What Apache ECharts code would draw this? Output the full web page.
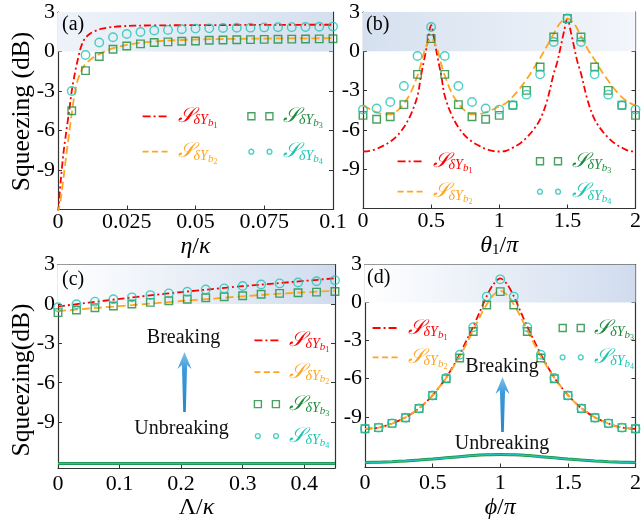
<!DOCTYPE html>
<html><head><meta charset="utf-8">
<script src="https://cdn.jsdelivr.net/npm/echarts@6/dist/echarts.min.js"></script>
<style>html,body{margin:0;padding:0;background:#fff}#c{width:644px;height:521px}</style>
</head><body><div id="c"></div><script>
// ---------- data ----------
// panel (a): eta/kappa
const aX1 = [0,0.0005,0.001,0.002,0.003,0.004,0.005,0.006,0.007,0.008,0.009,0.01,0.012,0.014,0.016,0.02,0.025,0.03,0.04,0.05,0.06,0.07,0.08,0.09,0.1];
const aY1 = [-12.3,-11.1,-9.8,-7.7,-6.1,-4.6,-3.0,-1.8,-0.8,0.1,0.7,1.05,1.4,1.6,1.74,1.87,1.94,1.97,1.99,2.0,2.01,2.02,2.02,2.03,2.03];
const aX2 = [0,0.001,0.002,0.003,0.004,0.005,0.006,0.007,0.008,0.009,0.01,0.0125,0.015,0.0175,0.02,0.025,0.03,0.035,0.04,0.05,0.06,0.07,0.08,0.09,0.1];
const aY2 = [-12.3,-11.2,-9.6,-7.9,-6.3,-4.7,-3.3,-2.3,-1.7,-1.25,-0.95,-0.5,-0.2,0.05,0.25,0.5,0.66,0.76,0.83,0.91,0.95,0.97,0.99,1.0,1.01];
const aPX = [0.005,0.01,0.015,0.02,0.025,0.03,0.035,0.04,0.045,0.05,0.055,0.06,0.065,0.07,0.075,0.08,0.085,0.09,0.095,0.1];
const aY3 = [-4.5,-1.45,-0.38,0.17,0.42,0.58,0.68,0.73,0.78,0.8,0.85,0.87,0.89,0.9,0.92,0.93,0.94,0.95,0.96,0.97];
const aY4 = [-3.0,-0.27,0.68,1.08,1.33,1.48,1.59,1.64,1.69,1.74,1.76,1.78,1.8,1.81,1.83,1.84,1.85,1.86,1.88,1.89];
// panel (b): theta1/pi
const bX1 = [0,0.05,0.1,0.15,0.2,0.25,0.3,0.35,0.4,0.425,0.45,0.475,0.5,0.525,0.55,0.575,0.6,0.65,0.7,0.75,0.8,0.85,0.9,0.95,1.0,1.05,1.1,1.15,1.2,1.25,1.3,1.35,1.4,1.425,1.45,1.475,1.5,1.525,1.55,1.575,1.6,1.65,1.7,1.75,1.8,1.85,1.9,1.95,2.0];
const bY1 = [-7.65,-7.6,-7.45,-7.2,-6.9,-6.45,-5.8,-4.85,-3.4,-1.9,-0.6,0.75,2.0,0.75,-0.6,-1.9,-3.4,-4.85,-5.8,-6.45,-6.9,-7.2,-7.45,-7.6,-7.65,-7.6,-7.35,-7.05,-6.6,-6.0,-5.2,-3.8,-1.7,-0.85,0.3,1.5,2.5,1.5,0.3,-0.85,-1.7,-3.8,-5.2,-6.0,-6.6,-7.05,-7.35,-7.6,-7.65];
const bX2 = [0,0.05,0.1,0.15,0.2,0.25,0.3,0.35,0.4,0.425,0.45,0.475,0.5,0.525,0.55,0.575,0.6,0.65,0.7,0.75,0.8,0.85,0.9,0.95,1.0,1.05,1.1,1.15,1.2,1.25,1.3,1.35,1.4,1.45,1.5,1.55,1.6,1.65,1.7,1.75,1.8,1.85,1.9,1.95,2.0];
const bY2 = [-4.15,-4.4,-4.65,-4.8,-4.82,-4.55,-4.0,-3.15,-1.85,-1.0,0.0,0.65,1.0,0.65,0.0,-1.0,-1.85,-3.15,-4.0,-4.55,-4.82,-4.8,-4.65,-4.45,-4.2,-3.95,-3.45,-2.85,-2.15,-1.35,-0.5,0.4,1.35,2.2,2.5,2.1,1.15,0.15,-0.65,-1.5,-2.25,-2.95,-3.5,-3.9,-4.15];
const bPX = [0,0.1,0.2,0.3,0.4,0.5,0.6,0.7,0.8,0.9,1.0,1.1,1.2,1.3,1.4,1.5,1.6,1.7,1.8,1.9,2.0];
const bY3 = [-4.89,-5.19,-5.0,-4.07,-1.76,0.97,-1.76,-4.07,-5.0,-5.19,-4.89,-4.12,-2.98,-1.2,1.09,2.5,1.09,-1.2,-2.98,-4.12,-4.89];
const bY4 = [-4.45,-4.37,-3.87,-2.65,-0.36,1.86,-0.36,-2.65,-3.87,-4.37,-4.45,-4.12,-3.31,-1.76,0.71,2.5,0.71,-1.76,-3.31,-4.12,-4.45];
// panel (c): Lambda/kappa
const cLX = [0,0.05,0.1,0.15,0.2,0.25,0.3,0.35,0.4,0.45];
const cY1 = [-0.2,0.1,0.38,0.65,0.9,1.13,1.35,1.55,1.75,1.95];
const cY2 = [-0.55,-0.35,-0.17,0.02,0.22,0.4,0.58,0.74,0.88,1.0];
const cPX = [0,0.03,0.06,0.09,0.12,0.15,0.18,0.21,0.24,0.27,0.3,0.33,0.36,0.39,0.42,0.45];
const cY3 = [-0.66,-0.46,-0.29,-0.16,-0.01,0.12,0.24,0.35,0.47,0.55,0.62,0.73,0.8,0.85,0.9,0.95];
const cY4 = [-0.26,-0.03,0.17,0.35,0.5,0.67,0.8,0.93,1.1,1.18,1.36,1.48,1.56,1.63,1.73,1.81];
const cUX = [0,0.45];
const cU = [-12.15,-12.15];
// panel (d): phi/pi
const dLX = [0,0.05,0.1,0.15,0.2,0.25,0.3,0.35,0.4,0.45,0.5,0.55,0.6,0.65,0.7,0.75,0.8,0.85,0.9,0.95,1.0,1.05,1.1,1.15,1.2,1.25,1.3,1.35,1.4,1.45,1.5,1.55,1.6,1.65,1.7,1.75,1.8,1.85,1.9,1.95,2.0];
const dY1 = [-9.95,-9.92,-9.85,-9.72,-9.53,-9.3,-9.05,-8.72,-8.33,-7.85,-7.3,-6.65,-5.92,-5.05,-4.08,-3.0,-1.9,-0.7,0.5,1.45,1.9,1.45,0.5,-0.7,-1.9,-3.0,-4.08,-5.05,-5.92,-6.65,-7.3,-7.85,-8.33,-8.72,-9.05,-9.3,-9.53,-9.72,-9.85,-9.92,-9.95];
const dY2 = [-9.95,-9.92,-9.85,-9.72,-9.53,-9.3,-9.05,-8.72,-8.33,-7.85,-7.3,-6.65,-5.95,-5.12,-4.25,-3.25,-2.2,-1.1,-0.15,0.6,0.95,0.6,-0.15,-1.1,-2.2,-3.25,-4.25,-5.12,-5.95,-6.65,-7.3,-7.85,-8.33,-8.72,-9.05,-9.3,-9.53,-9.72,-9.85,-9.92,-9.95];
const dPX = [0,0.1,0.2,0.3,0.4,0.5,0.6,0.7,0.8,0.9,1.0,1.1,1.2,1.3,1.4,1.5,1.6,1.7,1.8,1.9,2.0];
const dY3 = [-9.95,-9.86,-9.52,-9.08,-8.35,-7.33,-6.0,-4.37,-2.28,-0.19,0.86,-0.19,-2.28,-4.37,-6.0,-7.33,-8.35,-9.08,-9.52,-9.86,-9.95];
const dY4 = [-9.95,-9.86,-9.52,-9.08,-8.35,-7.33,-5.94,-4.11,-1.94,0.47,1.83,0.47,-1.94,-4.11,-5.94,-7.33,-8.35,-9.08,-9.52,-9.86,-9.95];
const dUX = dPX;
const dU = [-12.6,-12.58,-12.54,-12.48,-12.41,-12.33,-12.24,-12.15,-12.06,-12.0,-11.97,-12.0,-12.06,-12.15,-12.24,-12.33,-12.41,-12.48,-12.54,-12.58,-12.6];
// axes
const xRanges = [[0,0.1],[0,2],[0,0.45],[0,2]];
const yRanges = [[-12,3],[-12,3],[-12.5,3],[-13,3]];
const xTicks = [[0,0.025,0.05,0.075,0.1],[0,0.5,1,1.5,2],[0,0.1,0.2,0.3,0.4],[0,0.5,1,1.5,2]];
const yTicks = [-9,-6,-3,0,3];
const band = [0,3];
const panelLabels = ['(a)','(b)','(c)','(d)'];

// ---------- styles ----------
const FONT = 'Liberation Serif';
const RED='#ff0000', ORANGE='#ffa51f', GREEN='#1d8b3b', TEAL='#1fc4b4';
const COLORS = {b1:RED,b2:ORANGE,b3:GREEN,b4:TEAL};
const zip = (xs,ys)=>xs.map((x,i)=>[x,ys[i]]);
const grids = [
  {left:58,top:12,width:275,height:197.5},
  {left:363,top:12,width:280,height:196.5},
  {left:58,top:264.5,width:277,height:204.5},
  {left:365,top:264.5,width:278,height:203}
];
const bandColors = [['#eef3f9','#d5e0ef'],['#d5e0ef','#f3f6fa'],['#ffffff','#d0dcee'],['#ffffff','#d0dcee']];
const AX = '#333';
const xNames = ['{i|η}{n|/}{i|κ}','{i|θ}{s|1}{n|/}{i|π}','{n|Λ}{n|/}{i|κ}','{i|ϕ}{n|/}{i|π}'];
const nameGaps = [11,11,20,20];
const labelMargins = [2,2,5,5];

const xAxis = [], yAxis = [];
for (let i=0;i<4;i++){
  xAxis.push({type:'value',gridIndex:i,position:'bottom',min:xRanges[i][0],max:xRanges[i][1],
    axisLine:{show:true,onZero:false,lineStyle:{color:AX,width:1.2}},
    axisTick:{show:true,inside:true,length:4,customValues:xTicks[i],lineStyle:{color:AX,width:1}},
    axisLabel:{show:true,customValues:xTicks[i],fontFamily:FONT,fontSize:22,color:'#000',margin:labelMargins[i]},
    splitLine:{show:false},
    name:xNames[i],nameLocation:'middle',nameGap:nameGaps[i],
    nameTextStyle:{fontFamily:FONT,fontSize:24,color:'#000',rich:{
      i:{fontFamily:FONT,fontSize:24,fontStyle:'italic',color:'#000'},
      n:{fontFamily:FONT,fontSize:24,color:'#000'},
      s:{fontFamily:FONT,fontSize:15,color:'#000',padding:[10,0,0,0]}}}
  });
  yAxis.push({type:'value',gridIndex:i,position:'left',min:yRanges[i][0],max:yRanges[i][1],
    axisLine:{show:true,onZero:false,lineStyle:{color:AX,width:1.2}},
    axisTick:{show:true,inside:true,length:4,customValues:yTicks,lineStyle:{color:AX,width:1}},
    axisLabel:{show:true,customValues:yTicks,fontFamily:FONT,fontSize:22,color:'#000',margin:3},
    splitLine:{show:false}
  });
}
for (let i=0;i<4;i++){
  xAxis.push({type:'value',gridIndex:i,position:'top',min:xRanges[i][0],max:xRanges[i][1],
    axisLine:{show:true,onZero:false,lineStyle:{color:AX,width:1.2}},
    axisTick:{show:true,inside:true,length:4,customValues:xTicks[i],lineStyle:{color:AX,width:1}},
    axisLabel:{show:false},splitLine:{show:false}});
  yAxis.push({type:'value',gridIndex:i,position:'right',min:yRanges[i][0],max:yRanges[i][1],
    axisLine:{show:true,onZero:false,lineStyle:{color:AX,width:1.2}},
    axisTick:{show:true,inside:true,length:4,customValues:yTicks,lineStyle:{color:AX,width:1}},
    axisLabel:{show:false},splitLine:{show:false}});
}

const lineDefs = [
  [zip(aX1,aY1),zip(aX2,aY2),zip(aPX,aY3),zip(aPX,aY4)],
  [zip(bX1,bY1),zip(bX2,bY2),zip(bPX,bY3),zip(bPX,bY4)],
  [zip(cLX,cY1),zip(cLX,cY2),zip(cPX,cY3),zip(cPX,cY4)],
  [zip(dLX,dY1),zip(dLX,dY2),zip(dPX,dY3),zip(dPX,dY4)]
];
const smoothing = [0.3,0.35,0.3,0.3];
const DASHDOT = [7,3,2,3], DASH = [8,4];
const series = [];
for (let i=0;i<4;i++){
  series.push({type:'line',name:'band'+i,xAxisIndex:i,yAxisIndex:i,data:[],z:1,silent:true,
    markArea:{silent:true,itemStyle:{color:{type:'linear',x:0,y:0,x2:1,y2:0,colorStops:[{offset:0,color:bandColors[i][0]},{offset:1,color:bandColors[i][1]}]}},
      data:[[{xAxis:xRanges[i][0],yAxis:band[0]},{xAxis:xRanges[i][1],yAxis:band[1]}]]}});
}
const unb = [null,null,zip(cUX,cU),zip(dUX,dU)];
for (let i=2;i<4;i++){
  series.push({type:'line',name:'ug'+i,xAxisIndex:i,yAxisIndex:i,data:unb[i],symbol:'none',smooth:0.3,z:2,
    lineStyle:{color:GREEN,width:3}});
  series.push({type:'line',name:'ut'+i,xAxisIndex:i,yAxisIndex:i,data:unb[i],symbol:'none',smooth:0.3,z:2,
    lineStyle:{color:TEAL,width:1.6}});
}
for (let i=0;i<4;i++){
  const d = lineDefs[i];
  series.push({type:'line',name:'b1',xAxisIndex:i,yAxisIndex:i,data:d[0],symbol:'none',smooth:smoothing[i],z:3,
    lineStyle:{color:RED,width:1.8,type:DASHDOT},itemStyle:{color:RED}});
  series.push({type:'line',name:'b2',xAxisIndex:i,yAxisIndex:i,data:d[1],symbol:'none',smooth:smoothing[i],z:3,
    lineStyle:{color:ORANGE,width:1.8,type:DASH},itemStyle:{color:ORANGE}});
  series.push({type:'scatter',name:'b3',xAxisIndex:i,yAxisIndex:i,data:d[2],symbol:'rect',symbolSize:7.5,z:4,
    itemStyle:{color:'rgba(255,255,255,0)',borderColor:GREEN,borderWidth:1.4}});
  series.push({type:'scatter',name:'b4',xAxisIndex:i,yAxisIndex:i,data:d[3],symbol:'circle',symbolSize:8.5,z:5,
    itemStyle:{color:'rgba(255,255,255,0)',borderColor:TEAL,borderWidth:1.4}});
}

// legend
const rich = {};
['b1','b2','b3','b4'].forEach(k=>{
  const c = COLORS[k];
  rich['S'+k] = {fontFamily:FONT,fontSize:21,fontStyle:'italic',color:c,lineHeight:22,padding:[0,0,0,5]};
  rich['d'+k] = {fontFamily:FONT,fontSize:14,fontStyle:'italic',color:c,lineHeight:22,padding:[9,0,0,0]};
  rich['b'+k] = {fontFamily:FONT,fontSize:11,fontStyle:'italic',color:c,lineHeight:22,padding:[14,0,0,0]};
  rich['n'+k] = {fontFamily:FONT,fontSize:8,color:c,lineHeight:22,padding:[20,0,0,0]};
});
const fmt = name => `{S${name}|𝒮}{d${name}|δY}{b${name}|b}{n${name}|${name.slice(1)}}`;
const LN = 'path://M0,0M25,7M0,3.5L25,3.5';
const SQ = 'path://M0,0M25,7M0,0h7v7h-7z M18,0h7v7h-7z';
const CI = 'path://M0,0M25,7M1,3.5a2.4,2.4 0 1,0 4.8,0a2.4,2.4 0 1,0 -4.8,0 M19.2,3.5a2.4,2.4 0 1,0 4.8,0a2.4,2.4 0 1,0 -4.8,0';
const T0 = 'rgba(0,0,0,0)';
const L1 = {name:'b1',icon:LN,itemStyle:{color:T0,borderColor:RED,borderWidth:1.8,borderType:[8,3,2,3]}};
const L2 = {name:'b2',icon:LN,itemStyle:{color:T0,borderColor:ORANGE,borderWidth:1.8,borderType:[6,3.5]}};
const L3 = {name:'b3',icon:SQ,itemStyle:{color:T0,borderColor:GREEN,borderWidth:1.4}};
const L4 = {name:'b4',icon:CI,itemStyle:{color:T0,borderColor:TEAL,borderWidth:1.4}};
const legBase = {orient:'vertical',itemWidth:25,itemHeight:7,padding:0,selectedMode:false,formatter:fmt,textStyle:{rich:rich}};
const legend = [
  Object.assign({},legBase,{left:141.7,top:102.3,itemGap:7.4,data:[L1,L2]}),
  Object.assign({},legBase,{left:247.2,top:102.3,itemGap:7.4,data:[L3,L4]}),
  Object.assign({},legBase,{left:396.7,top:147.3,itemGap:2.4,data:[L1,L2]}),
  Object.assign({},legBase,{left:535.8,top:147.3,itemGap:2.4,data:[L3,L4]}),
  Object.assign({},legBase,{left:253.5,top:326.3,itemGap:3.9,data:[L1,L2,L3,L4]}),
  Object.assign({},legBase,{left:371.7,top:314,itemGap:1.3,data:[L1,L2]}),
  Object.assign({},legBase,{left:558.5,top:314,itemGap:1.3,data:[L3,L4]})
];

// annotations
const txt = (x,y,t,size,rot)=>({type:'text',x:x,y:y,rotation:rot||0,z:100,silent:true,
  style:{text:t,fontFamily:FONT,fontSize:size,fill:'#000',align:rot?'center':'left',verticalAlign:'middle'}});
const ctxt = (x,y,t,size)=>({type:'text',x:x,y:y,z:100,silent:true,
  style:{text:t,fontFamily:FONT,fontSize:size,fill:'#111',align:'center',verticalAlign:'middle'}});
const arrow = (x,yt,yb)=>({type:'polygon',z:100,silent:true,
  shape:{points:[[x,yt],[x+7,yt+17],[x+2.6,yt+13],[x+1.3,yb],[x-1.3,yb],[x-2.6,yt+13],[x-7,yt+17]]},
  style:{fill:{type:'linear',x:0,y:0,x2:0,y2:1,colorStops:[{offset:0,color:'#7ec0ec'},{offset:0.3,color:'#3d9ad8'},{offset:1,color:'#2486cc'}]}}});
const graphic = [
  txt(22,111.5,'Squeezing (dB)',25.5,Math.PI/2),
  txt(22,380,'Squeezing(dB)',25.5,Math.PI/2),
  txt(62,25,panelLabels[0],20), txt(366,25,panelLabels[1],20),
  txt(62,280,panelLabels[2],20), txt(367,278,panelLabels[3],20),
  ctxt(183.5,337.5,'Breaking',20), ctxt(181.5,428.5,'Unbreaking',20), arrow(184.5,352,412),
  ctxt(502,367,'Breaking',20), ctxt(502,443.5,'Unbreaking',20), arrow(502.5,377,432)
];

const chart = echarts.init(document.getElementById('c'),null,{renderer:'canvas'});
chart.setOption({animation:false,backgroundColor:'#fff',grid:grids,xAxis:xAxis,yAxis:yAxis,series:series,legend:legend,graphic:graphic});
</script></body></html>
